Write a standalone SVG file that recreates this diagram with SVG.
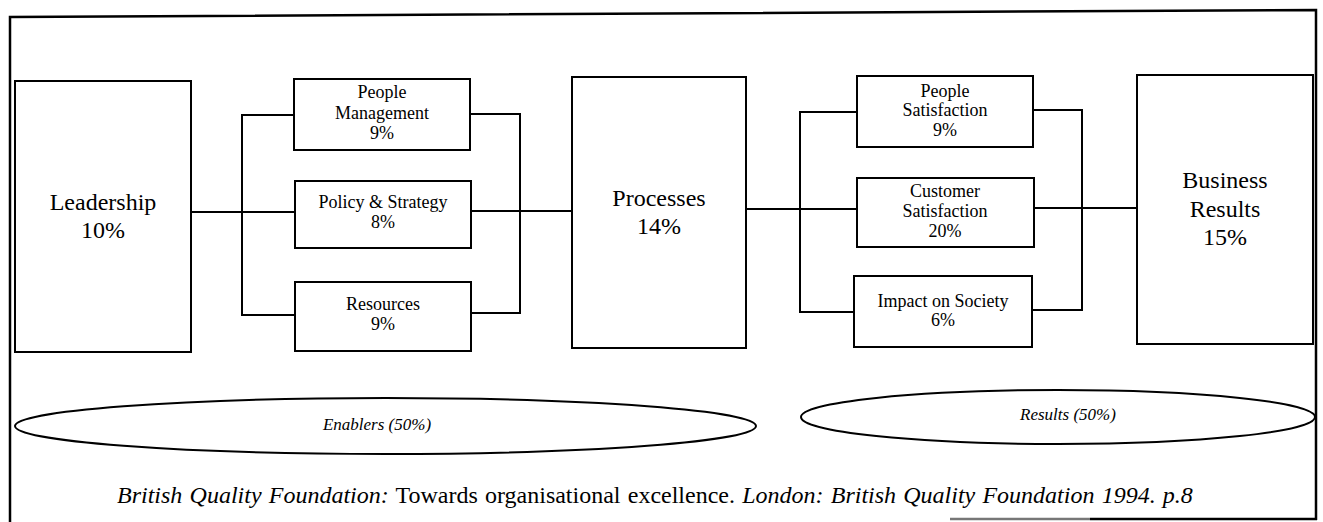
<svg xmlns="http://www.w3.org/2000/svg" width="1323" height="522" viewBox="0 0 1323 522">
  <style>
    .box { fill: #fff; stroke: #000; stroke-width: 2; }
    .link { fill: none; stroke: #000; stroke-width: 2; }
    .oval { fill: #fff; stroke: #000; stroke-width: 2; }
    text { font-family: "Liberation Serif", "Times New Roman", serif; fill: #000; text-anchor: middle; }
    .big { font-size: 24px; }
    .small { font-size: 18px; }
    .tag { font-size: 17px; font-style: italic; }
    .cite { font-size: 24px; text-anchor: start; word-spacing: 1.2px; }
    .it { font-style: italic; }
  </style>
  <rect width="1323" height="522" fill="#fff"/>

  <!-- outer frame -->
  <g id="frame">
    <path d="M10,522 L10,17 L1316,10 L1316,520" fill="none" stroke="#000" stroke-width="2.5"/>
    <line x1="950" y1="519" x2="1090" y2="519" stroke="#777" stroke-width="2.5"/>
    <line x1="1090" y1="519" x2="1317" y2="519" stroke="#000" stroke-width="2.5"/>
  </g>

  <!-- connectors -->
  <g id="connectors">
    <line class="link" x1="191" y1="212" x2="295" y2="212"/>
    <polyline class="link" points="294,115 242,115 242,315 295,315"/>
    <polyline class="link" points="470,114 520,114 520,313 471,313"/>
    <line class="link" x1="471" y1="211" x2="572" y2="211"/>
    <line class="link" x1="746" y1="209" x2="857" y2="209"/>
    <polyline class="link" points="857,112 800,112 800,312 854,312"/>
    <polyline class="link" points="1033,110 1082,110 1082,310 1032,310"/>
    <line class="link" x1="1034" y1="208" x2="1137" y2="208"/>
  </g>

  <g id="leadership">
    <rect class="box" x="15" y="81" width="176" height="271"/>
    <text class="big" x="103" y="210">Leadership</text>
    <text class="big" x="103" y="238">10%</text>
  </g>

  <g id="people-management">
    <rect class="box" x="294" y="79" width="176" height="71"/>
    <text class="small" x="382" y="98">People</text>
    <text class="small" x="382" y="119">Management</text>
    <text class="small" x="382" y="139">9%</text>
  </g>

  <g id="policy-strategy">
    <rect class="box" x="295" y="181" width="176" height="67"/>
    <text class="small" x="383" y="208">Policy &amp; Strategy</text>
    <text class="small" x="383" y="228">8%</text>
  </g>

  <g id="resources">
    <rect class="box" x="295" y="282" width="176" height="69"/>
    <text class="small" x="383" y="310">Resources</text>
    <text class="small" x="383" y="330">9%</text>
  </g>

  <g id="processes">
    <rect class="box" x="572" y="77" width="174" height="271"/>
    <text class="big" x="659" y="206">Processes</text>
    <text class="big" x="659" y="234">14%</text>
  </g>

  <g id="people-satisfaction">
    <rect class="box" x="857" y="76" width="176" height="71"/>
    <text class="small" x="945" y="97">People</text>
    <text class="small" x="945" y="116">Satisfaction</text>
    <text class="small" x="945" y="136">9%</text>
  </g>

  <g id="customer-satisfaction">
    <rect class="box" x="857" y="178" width="177" height="69"/>
    <text class="small" x="945" y="197">Customer</text>
    <text class="small" x="945" y="217">Satisfaction</text>
    <text class="small" x="945" y="237">20%</text>
  </g>

  <g id="impact-on-society">
    <rect class="box" x="854" y="276" width="178" height="71"/>
    <text class="small" x="943" y="307">Impact on Society</text>
    <text class="small" x="943" y="326">6%</text>
  </g>

  <g id="business-results">
    <rect class="box" x="1137" y="75" width="176" height="269"/>
    <text class="big" x="1225" y="188">Business</text>
    <text class="big" x="1225" y="217">Results</text>
    <text class="big" x="1225" y="245">15%</text>
  </g>

  <g id="enablers">
    <ellipse class="oval" cx="385.5" cy="426" rx="370.5" ry="28"/>
    <text class="tag" x="377" y="430">Enablers (50%)</text>
  </g>

  <g id="results">
    <ellipse class="oval" cx="1058" cy="417" rx="257" ry="27"/>
    <text class="tag" x="1068" y="420">Results (50%)</text>
  </g>

  <text class="cite" x="117" y="503"><tspan class="it">British Quality Foundation:</tspan> Towards organisational excellence. <tspan class="it">London: British Quality Foundation 1994. p.8</tspan></text>
</svg>
